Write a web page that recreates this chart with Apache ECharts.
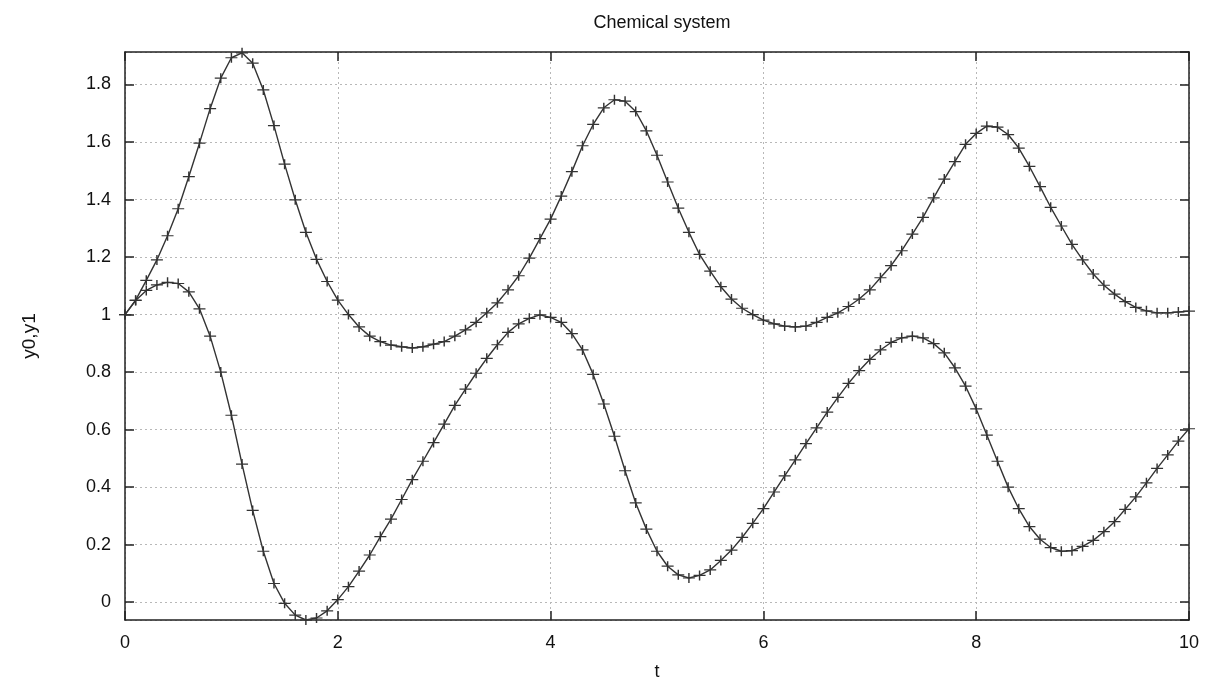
<!DOCTYPE html>
<html>
<head>
<meta charset="utf-8">
<script src="https://cdn.jsdelivr.net/npm/echarts@6/dist/echarts.min.js"></script>
<style>
html,body{margin:0;padding:0;background:#fff;}
#chart{width:1212px;height:686px;}
</style>
</head>
<body>
<div id="chart"></div>
<script>
// ---- data ----
const tValues = [
  0.0,0.1,0.2,0.3,0.4,0.5,0.6,0.7,0.8,0.9,
  1.0,1.1,1.2,1.3,1.4,1.5,1.6,1.7,1.8,1.9,
  2.0,2.1,2.2,2.3,2.4,2.5,2.6,2.7,2.8,2.9,
  3.0,3.1,3.2,3.3,3.4,3.5,3.6,3.7,3.8,3.9,
  4.0,4.1,4.2,4.3,4.4,4.5,4.6,4.7,4.8,4.9,
  5.0,5.1,5.2,5.3,5.4,5.5,5.6,5.7,5.8,5.9,
  6.0,6.1,6.2,6.3,6.4,6.5,6.6,6.7,6.8,6.9,
  7.0,7.1,7.2,7.3,7.4,7.5,7.6,7.7,7.8,7.9,
  8.0,8.1,8.2,8.3,8.4,8.5,8.6,8.7,8.8,8.9,
  9.0,9.1,9.2,9.3,9.4,9.5,9.6,9.7,9.8,9.9,
  10.0
];
const y0Values = [
  1.000,1.050,1.119,1.190,1.274,1.368,1.480,1.596,1.716,1.822,
  1.893,1.910,1.874,1.781,1.657,1.523,1.399,1.286,1.192,1.115,
  1.050,1.000,0.957,0.925,0.906,0.894,0.888,0.884,0.888,0.897,
  0.906,0.925,0.947,0.973,1.006,1.041,1.086,1.135,1.196,1.264,
  1.332,1.412,1.497,1.587,1.661,1.719,1.747,1.742,1.706,1.639,
  1.554,1.461,1.370,1.286,1.209,1.151,1.097,1.054,1.022,1.000,
  0.981,0.968,0.960,0.957,0.960,0.973,0.990,1.006,1.028,1.054,
  1.086,1.128,1.170,1.222,1.280,1.338,1.406,1.471,1.532,1.592,
  1.630,1.655,1.652,1.626,1.579,1.515,1.445,1.373,1.308,1.244,
  1.190,1.141,1.102,1.071,1.045,1.025,1.013,1.006,1.006,1.009,
  1.012
];
const y1Values = [
  1.000,1.049,1.084,1.103,1.112,1.108,1.079,1.020,0.925,0.800,
  0.650,0.480,0.319,0.177,0.065,-0.004,-0.045,-0.062,-0.055,-0.030,
  0.009,0.054,0.108,0.164,0.228,0.289,0.357,0.426,0.490,0.555,
  0.619,0.684,0.741,0.796,0.848,0.895,0.938,0.968,0.987,0.999,
  0.990,0.973,0.934,0.877,0.792,0.689,0.577,0.457,0.345,0.254,
  0.177,0.125,0.095,0.084,0.093,0.112,0.145,0.181,0.225,0.274,
  0.325,0.383,0.439,0.495,0.551,0.606,0.661,0.712,0.761,0.805,
  0.844,0.877,0.903,0.919,0.925,0.919,0.899,0.867,0.815,0.751,
  0.672,0.581,0.490,0.400,0.325,0.263,0.219,0.190,0.177,0.179,
  0.194,0.215,0.245,0.280,0.323,0.366,0.415,0.465,0.512,0.560,
  0.603
];
const xTickStep = 2;
const yTickStep = 0.2;
const titleText = 'Chemical system';
const xName = 't';
const yName = 'y0,y1';

// ---- chart ----
const FONT = 'Liberation Sans, Arial, Helvetica, sans-serif';
const INK = '#111';
const FRAME = '#222';
const plus = 'path://M0,4.4H10V5.6H0Z M4.4,0H5.6V10H4.4Z';

function pairs(ys){ return tValues.map((t,i)=>[t, ys[i]]); }

const yMin = -0.062, yMax = 1.913;

const gridLine = {show:true, lineStyle:{color:'#b8b8b8', width:1, type:[2,3]}};
const frameLine = {show:true, onZero:false, lineStyle:{color:FRAME, width:1.5}};
const tick = {show:true, inside:true, length:9, lineStyle:{color:FRAME, width:1.5}};

const chart = echarts.init(document.getElementById('chart'), null, {renderer:'canvas'});
chart.setOption({
  animation:false,
  backgroundColor:'#fff',
  title:{
    text:titleText, left:657, top:9, textAlign:'center',
    textStyle:{color:INK, fontSize:18, fontWeight:'normal', fontFamily:FONT}
  },
  grid:{left:125, right:23, top:52, bottom:63, containLabel:false},
  xAxis:[
    {type:'value', min:0, max:10, interval:xTickStep, position:'bottom',
     axisLine:frameLine, axisTick:tick, splitLine:gridLine,
     axisLabel:{color:INK, fontSize:18, margin:14, fontFamily:FONT},
     name:xName, nameLocation:'middle', nameGap:43,
     nameTextStyle:{color:INK, fontSize:18, fontFamily:FONT}},
    {type:'value', min:0, max:10, interval:xTickStep, position:'top',
     axisLine:frameLine, axisTick:tick, splitLine:{show:false},
     axisLabel:{show:false}}
  ],
  yAxis:[
    {type:'value', min:yMin, max:yMax, splitNumber:10, minInterval:yTickStep, maxInterval:yTickStep,
     position:'left', axisLine:frameLine, axisTick:tick, splitLine:gridLine,
     axisLabel:{color:INK, fontSize:18, margin:14, fontFamily:FONT,
       showMinLabel:false, showMaxLabel:false,
       formatter:function(v){
         const k = v/yTickStep;
         if (Math.abs(k-Math.round(k))>1e-6) return '';
         return String(Math.round(v*10)/10);
       }},
     name:yName, nameLocation:'middle', nameGap:86, nameRotate:90,
     nameTextStyle:{color:INK, fontSize:19, fontFamily:FONT}},
    {type:'value', min:yMin, max:yMax, splitNumber:10, minInterval:yTickStep, maxInterval:yTickStep,
     position:'right', axisLine:frameLine, axisTick:tick, splitLine:{show:false},
     axisLabel:{show:false}}
  ],
  series:[
    {name:'y0', type:'line', xAxisIndex:0, yAxisIndex:0, data:pairs(y0Values),
     symbol:plus, symbolSize:[12,10], showSymbol:true, showAllSymbol:true, clip:false,
     lineStyle:{color:'#333', width:1.4}, itemStyle:{color:'#333'}},
    {name:'y1', type:'line', xAxisIndex:0, yAxisIndex:0, data:pairs(y1Values),
     symbol:plus, symbolSize:[12,10], showSymbol:true, showAllSymbol:true, clip:false,
     lineStyle:{color:'#333', width:1.4}, itemStyle:{color:'#333'}}
  ]
});
</script>
</body>
</html>
